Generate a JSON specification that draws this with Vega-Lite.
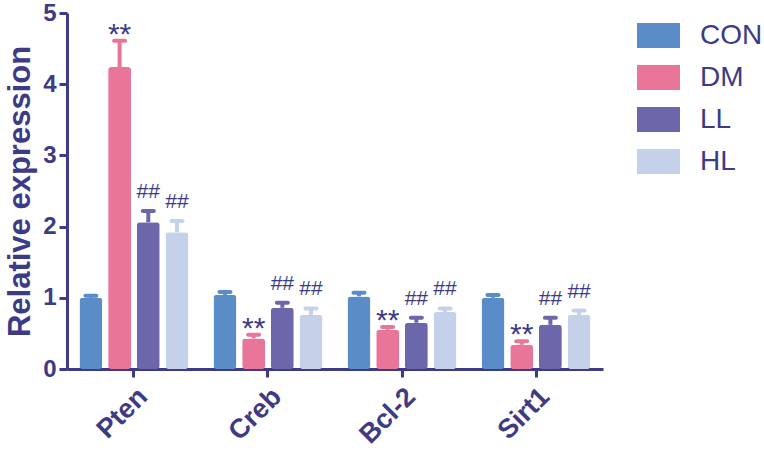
{
  "$schema": "https://vega.github.io/schema/vega-lite/v6.json",
  "autosize": "none",
  "width": 536,
  "height": 356,
  "padding": {"left": 67, "top": 13, "right": 161, "bottom": 86},
  "background": "white",
  "config": {
    "view": {"stroke": null},
    "font": "Liberation Sans",
    "axis": {"domainColor": "#3D3A86", "tickColor": "#3D3A86", "labelColor": "#3D3A86", "titleColor": "#3D3A86", "domainWidth": 3, "tickWidth": 3, "tickSize": 8, "grid": false, "labelFont": "Liberation Sans", "titleFont": "Liberation Sans"}
  },
  "data": {"values": [
    {"gene": "Pten", "group": "CON", "mean": 1.00, "upper": 1.03, "sig": ""},
    {"gene": "Pten", "group": "DM", "mean": 4.24, "upper": 4.61, "sig": "**"},
    {"gene": "Pten", "group": "LL", "mean": 2.06, "upper": 2.22, "sig": "##"},
    {"gene": "Pten", "group": "HL", "mean": 1.92, "upper": 2.08, "sig": "##"},
    {"gene": "Creb", "group": "CON", "mean": 1.04, "upper": 1.08, "sig": ""},
    {"gene": "Creb", "group": "DM", "mean": 0.43, "upper": 0.48, "sig": "**"},
    {"gene": "Creb", "group": "LL", "mean": 0.86, "upper": 0.93, "sig": "##"},
    {"gene": "Creb", "group": "HL", "mean": 0.76, "upper": 0.85, "sig": "##"},
    {"gene": "Bcl-2", "group": "CON", "mean": 1.02, "upper": 1.07, "sig": ""},
    {"gene": "Bcl-2", "group": "DM", "mean": 0.55, "upper": 0.59, "sig": "**"},
    {"gene": "Bcl-2", "group": "LL", "mean": 0.65, "upper": 0.72, "sig": "##"},
    {"gene": "Bcl-2", "group": "HL", "mean": 0.80, "upper": 0.85, "sig": "##"},
    {"gene": "Sirt1", "group": "CON", "mean": 1.00, "upper": 1.04, "sig": ""},
    {"gene": "Sirt1", "group": "DM", "mean": 0.34, "upper": 0.39, "sig": "**"},
    {"gene": "Sirt1", "group": "LL", "mean": 0.62, "upper": 0.72, "sig": "##"},
    {"gene": "Sirt1", "group": "HL", "mean": 0.76, "upper": 0.82, "sig": "##"}
  ]},
  "encoding": {
    "x": {"field": "gene", "type": "nominal", "sort": ["Pten", "Creb", "Bcl-2", "Sirt1"],
      "scale": {"paddingInner": 0.187, "paddingOuter": 0.093},
      "axis": {"title": null, "labelAngle": -45, "labelFontSize": 27, "labelFontWeight": "bold", "labelPadding": 6}},
    "xOffset": {"field": "group", "type": "nominal", "sort": ["CON", "DM", "LL", "HL"], "scale": {"paddingInner": 0.2, "paddingOuter": 0}}
  },
  "layer": [
    {
      "mark": {"type": "rule", "strokeWidth": 4},
      "encoding": {
        "y": {"field": "mean", "type": "quantitative"},
        "y2": {"field": "upper"},
        "color": {"field": "group", "type": "nominal", "scale": {"domain": ["CON", "DM", "LL", "HL"], "range": ["#5A8DC8", "#E97598", "#6C66AA", "#C5D1E8"]},
          "legend": {"title": null, "orient": "none", "legendX": 570, "legendY": 1, "padding": 0,
            "symbolType": "M-1,-0.58H1V0.58H-1Z", "symbolSize": 1849, "symbolStrokeWidth": 0, "symbolOpacity": 1,
            "labelFontSize": 28, "labelColor": "#3D3A86", "labelFont": "Liberation Sans", "labelOffset": 20, "rowPadding": 6}}
      }
    },
    {
      "mark": {"type": "tick", "size": 15, "thickness": 4, "cornerRadius": 2, "opacity": 1},
      "encoding": {
        "y": {"field": "upper", "type": "quantitative"},
        "color": {"field": "group", "type": "nominal"}
      }
    },
    {
      "mark": {"type": "bar", "cornerRadius": 3},
      "encoding": {
        "y": {"field": "mean", "type": "quantitative", "scale": {"domain": [0, 5], "nice": false},
          "axis": {"title": "Relative expression", "values": [0, 1, 2, 3, 4, 5], "format": "d", "labelFontSize": 24, "labelFontWeight": "bold", "labelPadding": 3, "titleFontSize": 31, "titleFontWeight": "bold", "titleX": -47, "titleY": 178, "titleAlign": "center", "titleBaseline": "middle", "titleAngle": -90}},
        "color": {"field": "group", "type": "nominal"}
      }
    },
    {
      "transform": [{"filter": "datum.sig == '**'"}],
      "mark": {"type": "text", "fontSize": 30, "color": "#3D3A86", "baseline": "alphabetic", "dy": 3},
      "encoding": {
        "y": {"field": "upper", "type": "quantitative"},
        "text": {"field": "sig"}
      }
    },
    {
      "transform": [{"filter": "datum.sig == '##'"}],
      "mark": {"type": "text", "fontSize": 21, "color": "#3D3A86", "baseline": "alphabetic", "dy": -13},
      "encoding": {
        "y": {"field": "upper", "type": "quantitative"},
        "text": {"field": "sig"}
      }
    }
  ]
}
